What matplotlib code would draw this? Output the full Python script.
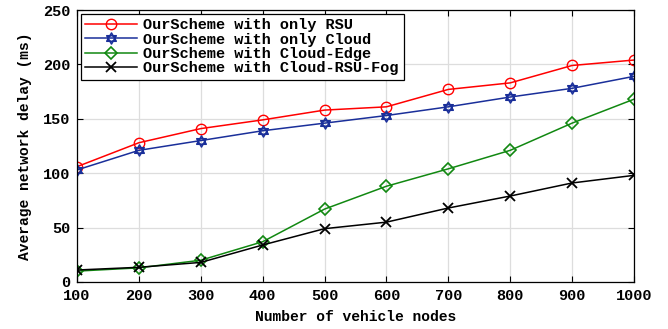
import matplotlib
matplotlib.use("Agg")
import numpy as np
import matplotlib.pyplot as plt
from matplotlib.path import Path

nodes = [100, 200, 300, 400, 500, 600, 700, 800, 900, 1000]
only_rsu = [106, 128, 141, 149, 158, 161, 177, 183, 199, 204]
only_cloud = [103, 121, 130, 139, 146, 153, 161, 170, 178, 189]
cloud_edge = [10, 13, 20, 37, 67, 88, 104, 121, 146, 168]
cloud_rsu_fog = [11, 13.5, 18, 34, 49, 55, 68, 79, 91, 98]

labels = ["OurScheme with only RSU", "OurScheme with only Cloud",
          "OurScheme with Cloud-Edge", "OurScheme with Cloud-RSU-Fog"]

plt.rcParams['font.family'] = ['Liberation Mono', 'DejaVu Sans Mono']
plt.rcParams['font.weight'] = 'bold'

# six-pointed star (two overlapping triangles)
ang_up = np.deg2rad([90, 210, 330])
ang_dn = np.deg2rad([270, 30, 150])
tri_up = Path(np.vstack([np.c_[np.cos(ang_up), np.sin(ang_up)], [[0, 1]]]), closed=True)
tri_dn = Path(np.vstack([np.c_[np.cos(ang_dn), np.sin(ang_dn)], [[0, -1]]]), closed=True)
hexagram = Path.make_compound_path(tri_up, tri_dn)

fig = plt.figure(figsize=(6.68, 3.29), dpi=100)
ax = fig.add_axes([0.1153, 0.1429, 0.8337, 0.8267])

ax.plot(nodes, only_rsu, color='#ff0000', marker='o', markersize=7.5,
        markerfacecolor='none', linewidth=1.1, label=labels[0])
ax.plot(nodes, only_cloud, color='#1a2f9a', marker=hexagram, markersize=8,
        markerfacecolor='none', markeredgewidth=1.1, linewidth=1.1, label=labels[1])
ax.plot(nodes, cloud_edge, color='#118811', marker='D', markersize=6,
        markerfacecolor='none', markeredgewidth=1.2, linewidth=1.1, label=labels[2])
ax.plot(nodes, cloud_rsu_fog, color='black', marker='x', markersize=7.5,
        markeredgewidth=1.3, linewidth=1.1, label=labels[3])

ax.set_xlim(100, 1000)
ax.set_ylim(0, 250)
ax.set_xticks(nodes)
ax.set_yticks([0, 50, 100, 150, 200, 250])
ax.grid(True, color='#dddddd', linewidth=0.9)
ax.tick_params(direction='in', top=True, right=True, labelsize=11,
               length=4, width=0.8, pad=5)
for s in ax.spines.values():
    s.set_linewidth(0.9)

ax.set_xlabel('Number of vehicle nodes', fontsize=10.5, fontweight='bold', labelpad=5)
ax.set_ylabel('Average network delay (ms)', fontsize=10.5, fontweight='bold', labelpad=8)

leg = ax.legend(loc='upper left', fontsize=11, fancybox=False, framealpha=1,
                edgecolor='black', borderaxespad=0.25, handlelength=3.4,
                handletextpad=0.4, labelspacing=0.02, borderpad=0.3)
leg.get_frame().set_linewidth(0.9)

fig.savefig('out.png', dpi=100)
